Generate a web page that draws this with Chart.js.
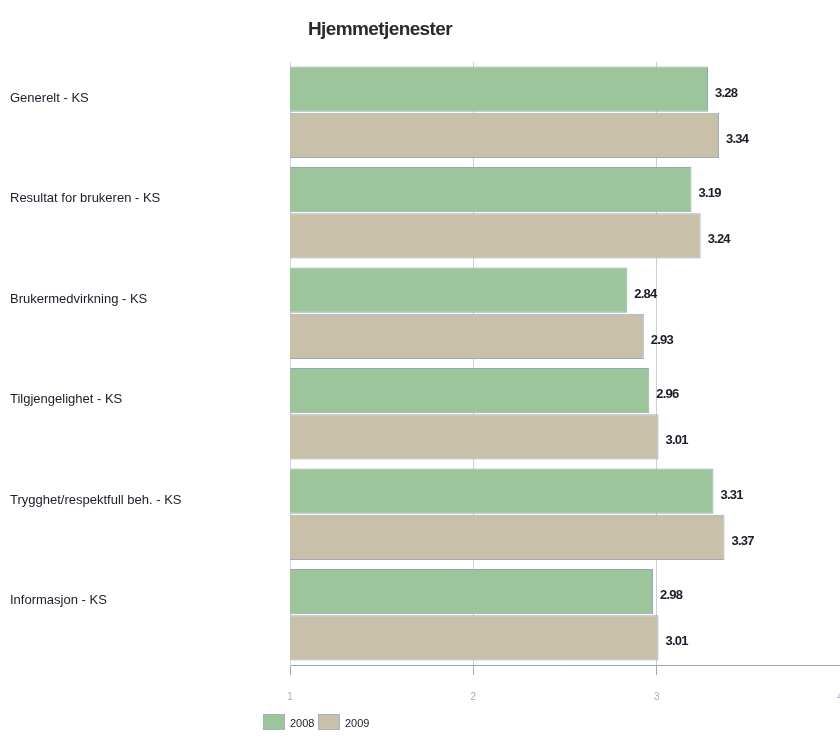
<!DOCTYPE html>
<html>
<head>
<meta charset="utf-8">
<script src="https://cdn.jsdelivr.net/npm/chart.js@4"></script>
<style>
  body { margin: 0; background: #fff; }
  #wrap { width: 840px; height: 738px; }
</style>
</head>
<body>
<div id="wrap"><canvas id="chart" width="840" height="738"></canvas></div>
<script>
const chartTitle = "Hjemmetjenester";
const categories = [
  "Generelt - KS",
  "Resultat for brukeren - KS",
  "Brukermedvirkning - KS",
  "Tilgjengelighet - KS",
  "Trygghet/respektfull beh. - KS",
  "Informasjon - KS",
];
const seriesNames = ["2008", "2009"];
const values2008 = [3.28, 3.19, 2.84, 2.96, 3.31, 2.98];
const values2009 = [3.34, 3.24, 2.93, 3.01, 3.37, 3.01];
const xTicks = [1, 2, 3, 4];

const FONT = "'Liberation Sans', Arial, sans-serif";

// title, category labels, value labels and legend drawn by hand
const extras = {
  id: "extras",
  afterDatasetsDraw(chart) {
    const ctx = chart.ctx;
    const yScale = chart.scales.y;
    ctx.save();

    ctx.fillStyle = "#2a2a2a";
    ctx.font = "bold 19px " + FONT;
    ctx.textAlign = "center";
    ctx.textBaseline = "middle";
    ctx.letterSpacing = "-0.6px";
    ctx.fillText(chartTitle, 380, 30);
    ctx.letterSpacing = "0px";

    ctx.font = "13px " + FONT;
    ctx.fillStyle = "#1c1c2a";
    ctx.textAlign = "left";
    categories.forEach((c, i) => {
      ctx.fillText(c, 10, yScale.getPixelForValue(i) - 14);
    });

    ctx.font = "bold 13px " + FONT;
    ctx.letterSpacing = "-0.8px";
    chart.data.datasets.forEach((ds, di) => {
      chart.getDatasetMeta(di).data.forEach((bar, i) => {
        ctx.fillText(ds.data[i].toFixed(2), bar.x + 7, bar.y + 4);
      });
    });
    ctx.letterSpacing = "0px";

    // legend
    ctx.font = "11px " + FONT;
    const legendX = [263, 318];
    chart.data.datasets.forEach((ds, di) => {
      const x = legendX[di];
      ctx.fillStyle = ds.backgroundColor;
      ctx.fillRect(x, 714, 22, 16);
      ctx.strokeStyle = "#a8b2bc";
      ctx.lineWidth = 1;
      ctx.strokeRect(x + 0.5, 714.5, 21, 15);
      ctx.fillStyle = "#1c1c2a";
      ctx.fillText(ds.label, x + 27, 724);
    });

    ctx.restore();
  },
};

const ctx = document.getElementById("chart").getContext("2d");
new Chart(ctx, {
  type: "bar",
  data: {
    labels: categories,
    datasets: [
      {
        label: seriesNames[0],
        data: values2008,
        backgroundColor: "#9cc59c",
        borderColor: "#94a8b4",
        borderWidth: 1,
        categoryPercentage: 0.92,
        barPercentage: 0.98,
      },
      {
        label: seriesNames[1],
        data: values2009,
        backgroundColor: "#c8c0a8",
        borderColor: "#a4a8bc",
        borderWidth: 1,
        categoryPercentage: 0.92,
        barPercentage: 0.98,
      },
    ],
  },
  options: {
    indexAxis: "y",
    responsive: false,
    animation: false,
    devicePixelRatio: 1,
    layout: {
      padding: { top: 62, left: 0, right: 0, bottom: 0 },
    },
    plugins: {
      legend: { display: false },
      title: { display: false },
      tooltip: { enabled: false },
    },
    scales: {
      x: {
        min: 1,
        max: 4,
        afterBuildTicks: (scale) => {
          scale.ticks = xTicks.map((v) => ({ value: v }));
        },
        afterFit: (scale) => {
          scale.height = 73;
          scale.paddingRight = 0;
          scale.paddingLeft = 0;
        },
        grid: {
          color: "#c9d0d6",
          tickLength: 10,
          tickColor: "#a0aab4",
        },
        border: { color: "#9aa8b8" },
        ticks: {
          padding: 16,
          color: "#9fb0c0",
          font: { family: FONT, size: 10 },
        },
      },
      y: {
        afterFit: (scale) => {
          scale.width = 290;
        },
        grid: { display: false },
        border: { color: "#d4dae0" },
        ticks: { display: false },
      },
    },
  },
  plugins: [extras],
});
</script>
</body>
</html>
